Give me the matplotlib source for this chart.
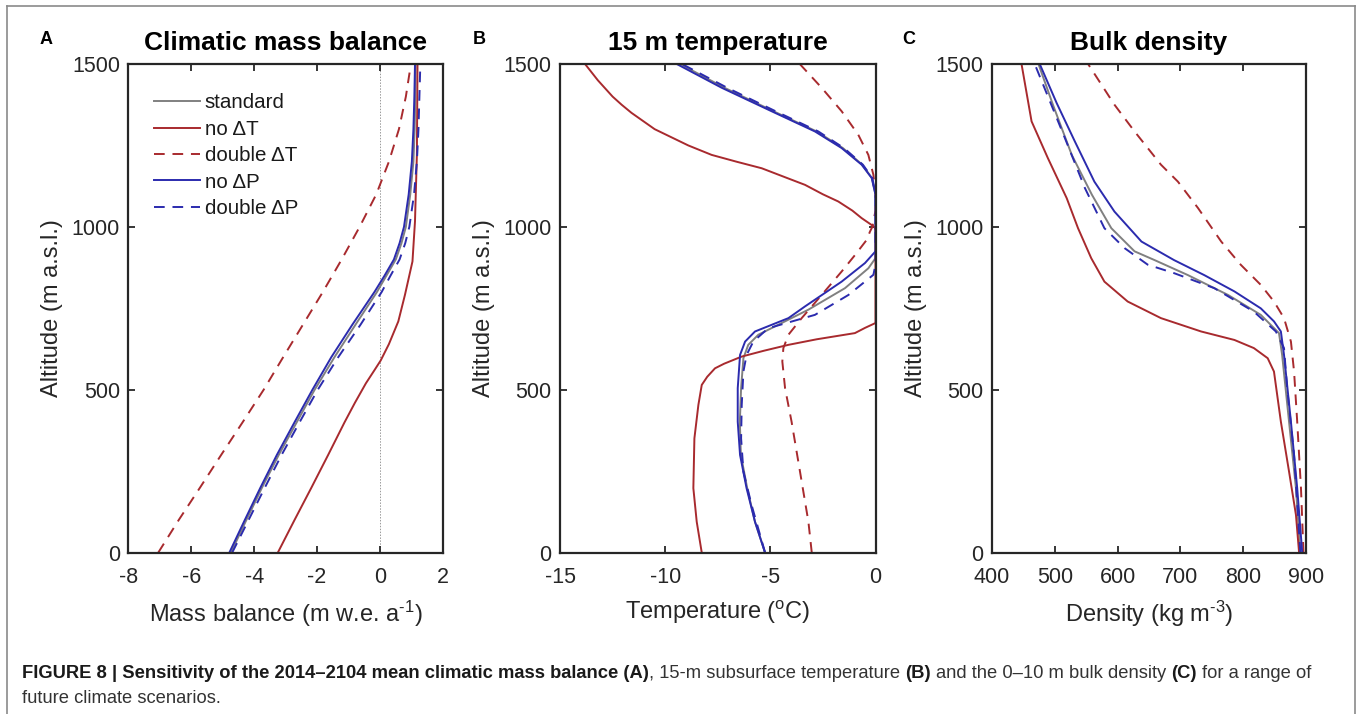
import matplotlib
matplotlib.use("Agg")
import matplotlib.pyplot as plt
from matplotlib.lines import Line2D

plt.rcParams['font.family'] = ['Liberation Sans', 'DejaVu Sans']
plt.rcParams['mathtext.fontset'] = 'custom'
plt.rcParams['mathtext.rm'] = 'Liberation Sans'
plt.rcParams['mathtext.it'] = 'Liberation Sans:italic'
plt.rcParams['mathtext.bf'] = 'Liberation Sans:bold'
plt.rcParams['axes.unicode_minus'] = False

# ---------------- data ----------------
series_labels = ["standard", "no \u0394T", "double \u0394T", "no \u0394P", "double \u0394P"]

# Panel A: climatic mass balance (m w.e. a-1) vs altitude
mb_alt = [0, 100, 200, 300, 400, 500, 600, 700, 800, 850, 900, 950, 1000, 1100, 1200, 1300, 1400, 1500]
mb_standard = [-4.74, -4.25, -3.75, -3.22, -2.65, -2.08, -1.45, -0.78, -0.10, 0.20, 0.50, 0.68, 0.82, 0.96, 1.06, 1.10, 1.12, 1.13]
mb_noP = [-4.79, -4.30, -3.80, -3.28, -2.72, -2.15, -1.55, -0.88, -0.18, 0.14, 0.44, 0.62, 0.76, 0.91, 1.01, 1.06, 1.09, 1.11]
mb_doubleP = [-4.70, -4.18, -3.66, -3.13, -2.56, -1.98, -1.33, -0.62, 0.05, 0.33, 0.62, 0.80, 0.93, 1.08, 1.17, 1.22, 1.25, 1.28]
mb_noT_alt = [0, 100, 200, 300, 400, 460, 520, 560, 590, 640, 710, 791, 894, 1017, 1221, 1500]
mb_noT = [-3.25, -2.72, -2.18, -1.65, -1.13, -0.80, -0.45, -0.18, 0.02, 0.28, 0.58, 0.79, 1.03, 1.11, 1.17, 1.19]
mb_doubleT_alt = [0, 100, 200, 300, 400, 500, 600, 700, 800, 900, 1000, 1100, 1200, 1300, 1400, 1500]
mb_doubleT = [-7.05, -6.40, -5.72, -5.05, -4.37, -3.70, -3.08, -2.45, -1.82, -1.22, -0.65, -0.12, 0.28, 0.60, 0.82, 0.98]

# Panel B: 15 m temperature (degC) vs altitude
t_noT_alt = [0, 95, 198, 351, 454, 515, 540, 566, 580, 602, 620, 638, 655, 674, 690, 705, 990, 1000, 1027, 1050, 1078, 1100, 1129, 1150, 1180, 1200, 1221, 1250, 1300, 1350, 1375, 1400, 1450, 1500]
t_noT = [-8.26, -8.50, -8.66, -8.61, -8.42, -8.26, -8.00, -7.63, -7.20, -6.36, -5.30, -4.14, -2.80, -0.98, -0.50, 0.0, 0.0, -0.05, -0.66, -1.10, -1.77, -2.50, -3.35, -4.20, -5.41, -6.60, -7.79, -8.90, -10.50, -11.60, -12.07, -12.50, -13.20, -13.81]
t_doubleT_alt = [0, 95, 249, 402, 505, 587, 628, 669, 720, 791, 863, 914, 960, 986, 1000, 1050, 1100, 1160, 1221, 1283, 1355, 1427, 1500]
t_doubleT = [-3.03, -3.19, -3.59, -3.99, -4.30, -4.43, -4.38, -4.14, -3.51, -2.56, -1.61, -0.97, -0.42, -0.26, -0.15, 0.0, 0.0, -0.10, -0.34, -0.82, -1.61, -2.56, -3.60]
t_noP_alt = [0, 95, 198, 300, 402, 505, 607, 648, 679, 720, 756, 832, 889, 925, 1099, 1150, 1191, 1242, 1293, 1355, 1427, 1500]
t_noP = [-5.25, -5.73, -6.13, -6.44, -6.55, -6.55, -6.44, -6.20, -5.73, -4.14, -3.35, -1.61, -0.50, 0.0, 0.0, -0.18, -0.66, -1.61, -2.88, -4.94, -7.31, -9.45]
t_standard_alt = [0, 95, 198, 300, 402, 505, 597, 638, 669, 746, 812, 873, 904, 1099, 1150, 1191, 1242, 1293, 1355, 1427, 1500]
t_standard = [-5.25, -5.73, -6.10, -6.40, -6.45, -6.39, -6.28, -6.05, -5.57, -3.19, -1.45, -0.34, 0.0, 0.0, -0.17, -0.63, -1.55, -2.80, -4.85, -7.18, -9.29]
t_doubleP_alt = [0, 146, 249, 351, 454, 556, 607, 648, 689, 730, 791, 853, 884, 1099, 1150, 1191, 1242, 1293, 1355, 1427, 1500]
t_doubleP = [-5.25, -5.89, -6.28, -6.39, -6.36, -6.28, -6.13, -5.81, -5.10, -2.88, -1.29, -0.10, 0.0, 0.0, -0.15, -0.60, -1.50, -2.72, -4.75, -7.05, -9.20]

# Panel C: 0-10 m bulk density (kg m-3) vs altitude
d_noT_alt = [0, 116, 249, 402, 556, 597, 628, 653, 679, 720, 771, 832, 904, 996, 1088, 1211, 1324, 1500]
d_noT = [889, 884, 873, 860, 849, 839, 817, 786, 733, 669, 616, 579, 558, 537, 519, 489, 463, 447]
d_noP_alt = [0, 198, 402, 607, 679, 710, 750, 802, 852, 898, 955, 1047, 1139, 1262, 1380, 1500]
d_noP = [894, 886, 876, 865, 860, 849, 828, 786, 738, 690, 638, 595, 563, 532, 503, 476]
d_standard_alt = [0, 198, 402, 607, 674, 730, 791, 852, 898, 925, 996, 1099, 1221, 1375, 1500]
d_standard = [891, 884, 873, 862, 857, 828, 776, 712, 659, 627, 590, 559, 527, 497, 474]
d_doubleP_alt = [0, 300, 505, 628, 679, 740, 812, 858, 884, 935, 996, 1119, 1273, 1500]
d_doubleP = [891, 881, 870, 865, 852, 817, 754, 690, 648, 611, 579, 548, 516, 468]
d_doubleT_alt = [0, 198, 402, 556, 648, 720, 771, 822, 884, 955, 1058, 1139, 1191, 1293, 1375, 1500]
d_doubleT = [896, 892, 886, 881, 876, 865, 849, 828, 796, 765, 728, 696, 669, 627, 595, 553]

# ---------------- style ----------------
c_gray = '#808080'
c_red = '#A82A2E'
c_blue = '#2B2BAE'
lw = 1.4
dash = (0, (5.5, 4))

fig = plt.figure(figsize=(13.6, 7.14), dpi=100)
W, H = 1360.0, 714.0

def make_ax(left_px, right_px):
    top_px, bot_px = 64.0, 552.7
    return fig.add_axes([left_px / W, 1 - bot_px / H, (right_px - left_px) / W, (bot_px - top_px) / H])

axA = make_ax(128.3, 443.0)
axB = make_ax(560.0, 875.5)
axC = make_ax(992.0, 1306.0)

spine_col = '#262626'
for ax in (axA, axB, axC):
    for s in ax.spines.values():
        s.set_linewidth(1.6)
        s.set_color(spine_col)
    ax.tick_params(direction='in', top=True, right=True, length=5, width=1.3,
                   color=spine_col, labelsize=15.5, labelcolor='#262626')
    ax.tick_params(axis='x', pad=10)
    ax.tick_params(axis='y', pad=6)
    ax.set_ylim(0, 1500)
    ax.set_yticks([0, 500, 1000, 1500])
    ax.set_ylabel('Altitude (m a.s.l.)', fontsize=17, color='#262626', labelpad=6)

# superscript helper: use a hyphen as in the reference if \text is supported
def sup(s):
    return '$^{\\text{%s}}$' % s

try:
    _t = fig.text(0, 0, 'a' + sup('-1'))
    fig.canvas.draw()
    _t.remove()
except Exception:
    try:
        _t.remove()
    except Exception:
        pass
    def sup(s):
        return '$^{\\mathrm{%s}}$' % s

# Panel A
axA.axvline(0, color='#9a9a9a', lw=0.7, ls=(0, (1.5, 1.5)), zorder=1)
axA.plot(mb_standard, mb_alt, color=c_gray, lw=lw, label=series_labels[0])
axA.plot(mb_noT, mb_noT_alt, color=c_red, lw=lw, label=series_labels[1])
axA.plot(mb_doubleT, mb_doubleT_alt, color=c_red, lw=lw, ls=dash, label=series_labels[2])
axA.plot(mb_noP, mb_alt, color=c_blue, lw=lw, label=series_labels[3])
axA.plot(mb_doubleP, mb_alt, color=c_blue, lw=lw, ls=dash, label=series_labels[4])
axA.set_xlim(-8, 2)
axA.set_xticks([-8, -6, -4, -2, 0, 2])
axA.set_xlabel('Mass balance (m w.e. a' + sup('-1') + ')', fontsize=17, color='#262626', labelpad=8)
axA.set_title('Climatic mass balance', fontsize=19, fontweight='bold', pad=10)
leg = axA.legend(loc='upper left', bbox_to_anchor=(0.083, 0.94), frameon=False, fontsize=14.8,
                 handlelength=2.2, handletextpad=0.25, labelspacing=0.36, borderaxespad=0, borderpad=0)
for t in leg.get_texts():
    t.set_color('#1a1a1a')

# Panel B
axB.plot(t_standard, t_standard_alt, color=c_gray, lw=lw)
axB.plot(t_noT, t_noT_alt, color=c_red, lw=lw)
axB.plot(t_doubleT, t_doubleT_alt, color=c_red, lw=lw, ls=dash)
axB.plot(t_noP, t_noP_alt, color=c_blue, lw=lw)
axB.plot(t_doubleP, t_doubleP_alt, color=c_blue, lw=lw, ls=dash)
axB.set_xlim(-15, 0)
axB.set_xticks([-15, -10, -5, 0])
axB.set_xlabel('Temperature (' + sup('o') + 'C)', fontsize=17, color='#262626', labelpad=8)
axB.set_title('15 m temperature', fontsize=19, fontweight='bold', pad=10)

# Panel C
axC.plot(d_standard, d_standard_alt, color=c_gray, lw=lw)
axC.plot(d_noT, d_noT_alt, color=c_red, lw=lw)
axC.plot(d_doubleT, d_doubleT_alt, color=c_red, lw=lw, ls=dash)
axC.plot(d_noP, d_noP_alt, color=c_blue, lw=lw)
axC.plot(d_doubleP, d_doubleP_alt, color=c_blue, lw=lw, ls=dash)
axC.set_xlim(400, 900)
axC.set_xticks([400, 500, 600, 700, 800, 900])
axC.set_xlabel('Density (kg m' + sup('-3') + ')', fontsize=17, color='#262626', labelpad=8)
axC.set_title('Bulk density', fontsize=19, fontweight='bold', pad=10)

# panel letters
for letter, xp in (('A', 40), ('B', 473), ('C', 902)):
    fig.text(xp / W, 1 - 44 / H, letter, fontsize=13, fontweight='bold', ha='left', va='baseline')

# figure frame
frame_col = '#8a8a8a'
fig.add_artist(Line2D([7 / W, 7 / W], [0, 1 - 6 / H], transform=fig.transFigure, color=frame_col, lw=1.2))
fig.add_artist(Line2D([1355 / W, 1355 / W], [0, 1 - 6 / H], transform=fig.transFigure, color=frame_col, lw=1.2))
fig.add_artist(Line2D([7 / W, 1355 / W], [1 - 6 / H, 1 - 6 / H], transform=fig.transFigure, color=frame_col, lw=1.2))

# caption
cap_fs = 13.25
segs = [('FIGURE 8 | Sensitivity of the 2014\u20132104 mean climatic mass balance (A)', 'bold', False),
        (', 15-m subsurface temperature', 'normal', False),
        ('(B)', 'bold', True),
        ('and the 0\u201310 m bulk density', 'normal', True),
        ('(C)', 'bold', True),
        ('for a range of', 'normal', True)]
fig.canvas.draw()
renderer = fig.canvas.get_renderer()
probe = fig.text(0, 0, 'a a', fontsize=cap_fs)
w_aa_sp = probe.get_window_extent(renderer).width
probe.set_text('aa')
w_aa = probe.get_window_extent(renderer).width
probe.remove()
space_w = w_aa_sp - w_aa

xcur = 22.0
y1 = 1 - 678 / H
for s, wgt, lead_space in segs:
    if lead_space:
        xcur += space_w
    tt = fig.text(xcur / W, y1, s, fontsize=cap_fs, fontweight=wgt,
                  color='#333333' if wgt == 'normal' else '#1a1a1a', va='baseline')
    xcur = tt.get_window_extent(renderer).x1
fig.text(22 / W, 1 - 703 / H, 'future climate scenarios.', fontsize=cap_fs,
         color='#333333', va='baseline')

fig.savefig('out.png', dpi=100)
